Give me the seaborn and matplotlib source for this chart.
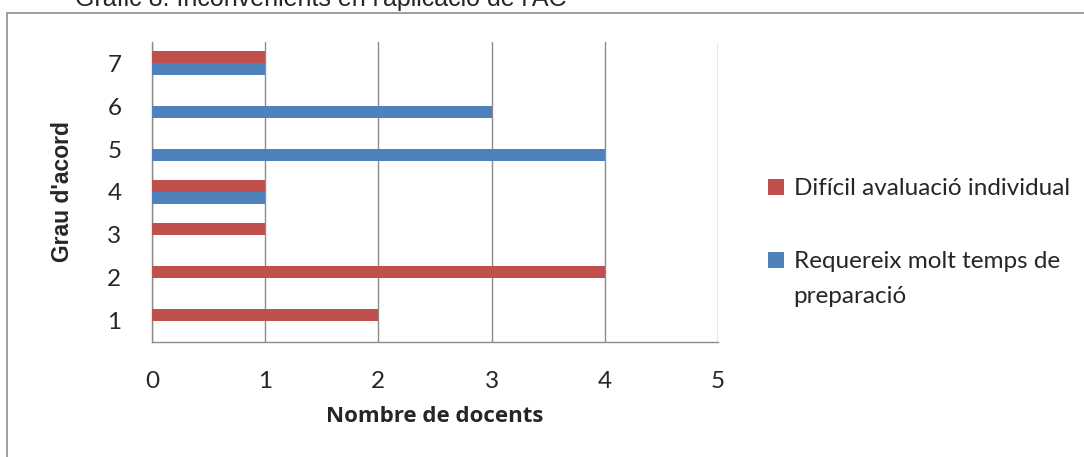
import matplotlib
matplotlib.use("Agg")
import matplotlib.pyplot as plt
from matplotlib.patches import Rectangle
from matplotlib.ticker import FixedLocator
import numpy as np
import pandas as pd
import seaborn as sns

# Agreement levels (top to bottom) and number of teachers per level
levels = ["7", "6", "5", "4", "3", "2", "1"]
dificil_avaluacio = [1, 0, 0, 1, 1, 4, 2]
molt_temps = [1, 3, 4, 1, 0, 0, 0]
series_names = ["Difícil avaluació individual", "Requereix molt temps de"]
series_name_cont = "preparació"
x_ticks = [0, 1, 2, 3, 4, 5]

title = "Gràfic 8: Inconvenients en l'aplicació de l'AC"
x_label = "Nombre de docents"
y_label = "Grau d'acord"

colors = ["#C0504D", "#4F81BD"]

df = pd.DataFrame({
    "Grau": levels * 2,
    "Docents": dificil_avaluacio + molt_temps,
    "Serie": [series_names[0]] * len(levels) + [series_names[1]] * len(levels),
})

sns.set_style("white")
plt.rcParams["font.family"] = ["Lato", "DejaVu Sans"]

W, H = 1084, 457
fig = plt.figure(figsize=(W / 100, H / 100), dpi=100)

# chart frame
fig.patches.append(Rectangle((7 / W, -0.1), 1.2, (H - 13) / H + 0.1,
                             transform=fig.transFigure, fill=False,
                             edgecolor="#8c8c8c", linewidth=1.2, zorder=0))

ax = fig.add_axes([152 / W, (H - 342) / H, (718 - 152) / W, 300 / H])

sns.barplot(data=df, x="Docents", y="Grau", hue="Serie", order=levels,
            hue_order=series_names, palette=colors, orient="h",
            width=0.56, saturation=1, linewidth=0, ax=ax, legend=True,
            zorder=3)

ax.set_xlim(0, 5)
ax.set_ylim(6.5, -0.5)
ax.set_xticks(x_ticks)
ax.set_xticklabels([str(t) for t in x_ticks], fontsize=17.5)
ax.tick_params(axis="x", length=6, width=1, color="#8c8c8c", pad=15,
               direction="out")
ax.tick_params(axis="y", which="major", length=0, pad=22, labelsize=17.5)
ax.yaxis.set_minor_locator(FixedLocator(np.arange(-0.5, 7, 1.0)))
ax.tick_params(axis="y", which="minor", length=6, width=1, color="#8c8c8c",
               direction="out")

ax.grid(axis="x", color="#8c8c8c", linewidth=1, zorder=0)
ax.grid(axis="y", visible=False)
ax.set_axisbelow(True)
for side in ["top", "right"]:
    ax.spines[side].set_visible(False)
for side in ["left", "bottom"]:
    ax.spines[side].set_color("#8c8c8c")
    ax.spines[side].set_linewidth(1)

ax.set_xlabel(x_label, fontsize=16, fontweight="bold", labelpad=10,
              family=["Open Sans", "DejaVu Sans"])
ax.set_ylabel(y_label, fontsize=16.5, fontweight="bold", labelpad=24,
              family=["Liberation Sans", "DejaVu Sans"])

leg = ax.legend(loc="upper left", bbox_to_anchor=(756 / W, (H - 166) / H),
                bbox_transform=fig.transFigure, frameon=False, fontsize=17.5,
                handlelength=0.65, handleheight=0.65, handletextpad=0.4,
                labelspacing=2.15, borderpad=0)
# continuation line of the second legend label
fig.canvas.draw()
t2 = leg.get_texts()[1]
bb = t2.get_window_extent()
fig.text(bb.x0 / W, (bb.y0 - 35) / H, series_name_cont, fontsize=17.5,
         va="bottom", ha="left")

fig.text(75 / W, (H - 6) / H, title, fontsize=18, va="baseline",
         family=["Liberation Sans", "DejaVu Sans"])

fig.savefig("out.png", dpi=100)
